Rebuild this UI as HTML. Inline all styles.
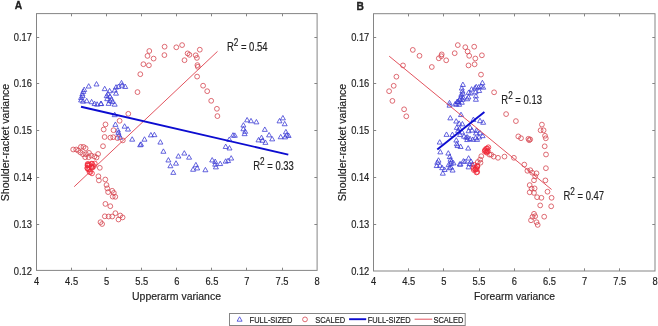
<!DOCTYPE html>
<html><head><meta charset="utf-8"><style>
html,body{margin:0;padding:0;background:#fff;width:658px;height:326px;overflow:hidden}
svg{display:block;font-family:"Liberation Sans",sans-serif;filter:blur(0.45px)}
</style></head><body>
<svg width="658" height="326" viewBox="0 0 658 326">
<rect width="658" height="326" fill="#fff"/>
<rect x="36.5" y="13.6" width="280.60" height="256.80" fill="none" stroke="#858585" stroke-width="1.0"/>
<path d="M71.50 270.4v-2.7M71.50 13.6v2.7M106.50 270.4v-2.7M106.50 13.6v2.7M141.50 270.4v-2.7M141.50 13.6v2.7M176.50 270.4v-2.7M176.50 13.6v2.7M211.50 270.4v-2.7M211.50 13.6v2.7M246.50 270.4v-2.7M246.50 13.6v2.7M282.50 270.4v-2.7M282.50 13.6v2.7M36.5 37.5h2.7M317.1 37.5h-2.7M36.5 83.5h2.7M317.1 83.5h-2.7M36.5 130.5h2.7M317.1 130.5h-2.7M36.5 177.5h2.7M317.1 177.5h-2.7M36.5 224.5h2.7M317.1 224.5h-2.7" stroke="#858585" stroke-width="1.0" fill="none"/>
<rect x="373.5" y="13.7" width="281.50" height="257.30" fill="none" stroke="#858585" stroke-width="1.0"/>
<path d="M408.50 271.0v-2.7M408.50 13.7v2.7M443.50 271.0v-2.7M443.50 13.7v2.7M479.50 271.0v-2.7M479.50 13.7v2.7M514.50 271.0v-2.7M514.50 13.7v2.7M549.50 271.0v-2.7M549.50 13.7v2.7M584.50 271.0v-2.7M584.50 13.7v2.7M619.50 271.0v-2.7M619.50 13.7v2.7M373.5 37.5h2.7M655.0 37.5h-2.7M373.5 83.5h2.7M655.0 83.5h-2.7M373.5 130.5h2.7M655.0 130.5h-2.7M373.5 177.5h2.7M655.0 177.5h-2.7M373.5 224.5h2.7M655.0 224.5h-2.7" stroke="#858585" stroke-width="1.0" fill="none"/>
<path d="M96.5 81.56l2.50 4.40h-5.00zM88.7 83.66l2.50 4.40h-5.00zM84.2 87.06l2.50 4.40h-5.00zM83.3 88.96l2.50 4.40h-5.00zM82.4 91.36l2.50 4.40h-5.00zM82.6 93.26l2.50 4.40h-5.00zM81.1 95.06l2.50 4.40h-5.00zM81.1 97.56l2.50 4.40h-5.00zM83.0 98.76l2.50 4.40h-5.00zM86.7 98.36l2.50 4.40h-5.00zM91.6 99.36l2.50 4.40h-5.00zM94.6 101.16l2.50 4.40h-5.00zM97.1 101.76l2.50 4.40h-5.00zM100.8 101.16l2.50 4.40h-5.00zM104.7 86.26l2.50 4.40h-5.00zM109.6 88.36l2.50 4.40h-5.00zM108.0 91.36l2.50 4.40h-5.00zM106.7 93.26l2.50 4.40h-5.00zM110.0 93.86l2.50 4.40h-5.00zM107.2 96.26l2.50 4.40h-5.00zM111.5 96.56l2.50 4.40h-5.00zM109.8 98.16l2.50 4.40h-5.00zM108.6 100.96l2.50 4.40h-5.00zM112.5 99.16l2.50 4.40h-5.00zM114.7 101.76l2.50 4.40h-5.00zM116.0 90.76l2.50 4.40h-5.00zM114.7 87.66l2.50 4.40h-5.00zM116.0 84.66l2.50 4.40h-5.00zM118.4 84.06l2.50 4.40h-5.00zM121.5 80.36l2.50 4.40h-5.00zM122.1 82.76l2.50 4.40h-5.00zM125.2 84.06l2.50 4.40h-5.00zM101.2 101.16l2.50 4.40h-5.00zM114.7 112.26l2.50 4.40h-5.00zM115.4 121.96l2.50 4.40h-5.00zM124.6 123.76l2.50 4.40h-5.00zM128.0 126.66l2.50 4.40h-5.00zM117.8 127.56l2.50 4.40h-5.00zM118.4 129.96l2.50 4.40h-5.00zM119.0 132.46l2.50 4.40h-5.00zM120.2 134.86l2.50 4.40h-5.00zM132.2 136.76l2.50 4.40h-5.00zM140.2 142.36l2.50 4.40h-5.00zM141.0 141.76l2.50 4.40h-5.00zM144.5 136.76l2.50 4.40h-5.00zM150.9 132.46l2.50 4.40h-5.00zM154.4 132.26l2.50 4.40h-5.00zM160.4 139.66l2.50 4.40h-5.00zM163.4 148.86l2.50 4.40h-5.00zM168.4 157.56l2.50 4.40h-5.00zM170.4 163.36l2.50 4.40h-5.00zM176.0 160.76l2.50 4.40h-5.00zM173.3 169.96l2.50 4.40h-5.00zM178.4 153.66l2.50 4.40h-5.00zM184.3 150.66l2.50 4.40h-5.00zM189.1 154.76l2.50 4.40h-5.00zM195.9 162.36l2.50 4.40h-5.00zM193.1 166.86l2.50 4.40h-5.00zM197.2 165.56l2.50 4.40h-5.00zM205.4 167.36l2.50 4.40h-5.00zM212.2 157.56l2.50 4.40h-5.00zM215.2 159.06l2.50 4.40h-5.00zM215.2 161.76l2.50 4.40h-5.00zM215.9 164.46l2.50 4.40h-5.00zM220.2 161.16l2.50 4.40h-5.00zM225.7 144.06l2.50 4.40h-5.00zM229.5 145.56l2.50 4.40h-5.00zM225.7 158.76l2.50 4.40h-5.00zM228.1 158.16l2.50 4.40h-5.00zM231.2 155.66l2.50 4.40h-5.00zM247.1 117.46l2.50 4.40h-5.00zM251.0 118.36l2.50 4.40h-5.00zM256.4 119.46l2.50 4.40h-5.00zM243.4 122.66l2.50 4.40h-5.00zM243.4 126.36l2.50 4.40h-5.00zM245.2 128.86l2.50 4.40h-5.00zM244.6 131.26l2.50 4.40h-5.00zM233.0 132.66l2.50 4.40h-5.00zM234.8 132.86l2.50 4.40h-5.00zM229.3 136.96l2.50 4.40h-5.00zM264.8 126.96l2.50 4.40h-5.00zM269.1 132.46l2.50 4.40h-5.00zM272.2 136.46l2.50 4.40h-5.00zM258.5 137.46l2.50 4.40h-5.00zM261.5 135.16l2.50 4.40h-5.00zM262.5 137.86l2.50 4.40h-5.00zM265.4 139.96l2.50 4.40h-5.00zM279.5 118.46l2.50 4.40h-5.00zM282.9 115.46l2.50 4.40h-5.00zM284.7 121.36l2.50 4.40h-5.00zM280.7 134.36l2.50 4.40h-5.00zM285.9 129.36l2.50 4.40h-5.00zM286.8 132.46l2.50 4.40h-5.00zM288.6 133.06l2.50 4.40h-5.00zM285.1 134.46l2.50 4.40h-5.00z" fill="none" stroke="#3e3ed6" stroke-width="0.8" stroke-linejoin="miter"/>
<g fill="none" stroke="#d64650" stroke-width="0.8"><circle cx="137.5" cy="92.1" r="2.4"/><circle cx="140.3" cy="74.2" r="2.4"/><circle cx="143.4" cy="64.2" r="2.4"/><circle cx="148.9" cy="65.3" r="2.4"/><circle cx="147.5" cy="55.9" r="2.4"/><circle cx="149.3" cy="51.0" r="2.4"/><circle cx="153.6" cy="58.6" r="2.4"/><circle cx="164.6" cy="46.7" r="2.4"/><circle cx="164.4" cy="55.1" r="2.4"/><circle cx="176.3" cy="47.3" r="2.4"/><circle cx="182.1" cy="45.1" r="2.4"/><circle cx="184.5" cy="60.2" r="2.4"/><circle cx="187.6" cy="53.4" r="2.4"/><circle cx="189.4" cy="54.8" r="2.4"/><circle cx="195.7" cy="55.3" r="2.4"/><circle cx="196.9" cy="57.9" r="2.4"/><circle cx="199.8" cy="49.7" r="2.4"/><circle cx="197.4" cy="65.1" r="2.4"/><circle cx="197.8" cy="66.8" r="2.4"/><circle cx="197.1" cy="76.6" r="2.4"/><circle cx="203.1" cy="85.7" r="2.4"/><circle cx="207.2" cy="91.2" r="2.4"/><circle cx="211.2" cy="100.8" r="2.4"/><circle cx="216.9" cy="108.8" r="2.4"/><circle cx="217.4" cy="116.1" r="2.4"/><circle cx="128.3" cy="113.8" r="2.4"/><circle cx="119.6" cy="120.8" r="2.4"/><circle cx="105.5" cy="124.4" r="2.4"/><circle cx="103.7" cy="129.5" r="2.4"/><circle cx="113.5" cy="130.2" r="2.4"/><circle cx="104.6" cy="137.0" r="2.4"/><circle cx="110.4" cy="137.6" r="2.4"/><circle cx="113.2" cy="137.2" r="2.4"/><circle cx="117.5" cy="138.1" r="2.4"/><circle cx="122.8" cy="140.4" r="2.4"/><circle cx="103.0" cy="146.2" r="2.4"/><circle cx="73.2" cy="149.5" r="2.4"/><circle cx="76.2" cy="149.5" r="2.4"/><circle cx="78.3" cy="150.7" r="2.4"/><circle cx="80.9" cy="146.9" r="2.4"/><circle cx="83.5" cy="146.9" r="2.4"/><circle cx="85.6" cy="148.2" r="2.4"/><circle cx="80.5" cy="152.5" r="2.4"/><circle cx="83.0" cy="154.2" r="2.4"/><circle cx="86.0" cy="154.2" r="2.4"/><circle cx="89.0" cy="152.9" r="2.4"/><circle cx="85.2" cy="157.2" r="2.4"/><circle cx="88.6" cy="157.2" r="2.4"/><circle cx="91.2" cy="155.5" r="2.4"/><circle cx="94.4" cy="156.5" r="2.4"/><circle cx="98.1" cy="154.0" r="2.4"/><circle cx="96.5" cy="157.5" r="2.4"/><circle cx="99.8" cy="167.8" r="2.4"/><circle cx="98.4" cy="176.3" r="2.4"/><circle cx="98.9" cy="180.4" r="2.4"/><circle cx="105.3" cy="179.5" r="2.4"/><circle cx="106.5" cy="185.0" r="2.4"/><circle cx="107.3" cy="188.4" r="2.4"/><circle cx="108.1" cy="192.1" r="2.4"/><circle cx="112.2" cy="190.8" r="2.4"/><circle cx="113.8" cy="192.9" r="2.4"/><circle cx="112.7" cy="196.6" r="2.4"/><circle cx="115.3" cy="196.8" r="2.4"/><circle cx="105.4" cy="203.9" r="2.4"/><circle cx="110.3" cy="206.2" r="2.4"/><circle cx="104.8" cy="216.3" r="2.4"/><circle cx="108.6" cy="216.5" r="2.4"/><circle cx="112.2" cy="216.5" r="2.4"/><circle cx="115.4" cy="213.2" r="2.4"/><circle cx="120.2" cy="215.5" r="2.4"/><circle cx="122.6" cy="217.4" r="2.4"/><circle cx="118.5" cy="219.5" r="2.4"/><circle cx="100.5" cy="222.2" r="2.4"/><circle cx="102.1" cy="224.0" r="2.4"/></g>
<g fill="none" stroke="#f02838" stroke-width="0.8"><circle cx="89.6" cy="164.7" r="2.4"/><circle cx="92.2" cy="163.8" r="2.4"/><circle cx="91.3" cy="167.0" r="2.4"/><circle cx="87.5" cy="168.6" r="2.4"/><circle cx="87.3" cy="167.8" r="2.4"/><circle cx="87.6" cy="164.0" r="2.4"/><circle cx="90.4" cy="172.1" r="2.4"/><circle cx="88.0" cy="165.5" r="2.4"/><circle cx="92.0" cy="173.4" r="2.4"/><circle cx="91.6" cy="167.4" r="2.4"/><circle cx="94.8" cy="163.5" r="2.4"/><circle cx="93.9" cy="166.2" r="2.4"/><circle cx="88.2" cy="164.3" r="2.4"/><circle cx="89.5" cy="172.0" r="2.4"/><circle cx="88.4" cy="169.4" r="2.4"/><circle cx="92.1" cy="167.1" r="2.4"/><circle cx="91.4" cy="163.7" r="2.4"/><circle cx="87.5" cy="165.3" r="2.4"/><circle cx="92.4" cy="167.7" r="2.4"/><circle cx="89.5" cy="169.4" r="2.4"/></g>
<path d="M462.9 82.06l2.50 4.40h-5.00zM461.8 85.66l2.50 4.40h-5.00zM462.4 88.56l2.50 4.40h-5.00zM462.9 90.86l2.50 4.40h-5.00zM461.3 91.96l2.50 4.40h-5.00zM460.8 94.36l2.50 4.40h-5.00zM463.1 94.86l2.50 4.40h-5.00zM459.8 96.96l2.50 4.40h-5.00zM462.3 96.96l2.50 4.40h-5.00zM458.7 99.26l2.50 4.40h-5.00zM461.8 99.86l2.50 4.40h-5.00zM456.5 101.66l2.50 4.40h-5.00zM459.2 101.86l2.50 4.40h-5.00zM457.2 99.16l2.50 4.40h-5.00zM482.4 80.26l2.50 4.40h-5.00zM481.1 83.76l2.50 4.40h-5.00zM483.2 84.76l2.50 4.40h-5.00zM476.2 84.26l2.50 4.40h-5.00zM478.7 84.56l2.50 4.40h-5.00zM474.9 85.56l2.50 4.40h-5.00zM471.6 86.66l2.50 4.40h-5.00zM470.7 90.66l2.50 4.40h-5.00zM475.6 89.46l2.50 4.40h-5.00zM479.2 88.06l2.50 4.40h-5.00zM475.9 93.46l2.50 4.40h-5.00zM475.9 96.86l2.50 4.40h-5.00zM468.4 94.56l2.50 4.40h-5.00zM467.2 96.36l2.50 4.40h-5.00zM468.7 89.96l2.50 4.40h-5.00zM449.5 100.36l2.50 4.40h-5.00zM449.5 102.76l2.50 4.40h-5.00zM455.1 101.56l2.50 4.40h-5.00zM457.5 99.06l2.50 4.40h-5.00zM461.0 112.16l2.50 4.40h-5.00zM450.3 115.46l2.50 4.40h-5.00zM456.2 118.66l2.50 4.40h-5.00zM459.1 120.86l2.50 4.40h-5.00zM462.4 121.46l2.50 4.40h-5.00zM456.8 124.96l2.50 4.40h-5.00zM459.6 125.96l2.50 4.40h-5.00zM473.4 117.06l2.50 4.40h-5.00zM480.0 118.26l2.50 4.40h-5.00zM483.2 119.86l2.50 4.40h-5.00zM470.1 124.96l2.50 4.40h-5.00zM468.6 128.36l2.50 4.40h-5.00zM472.0 127.66l2.50 4.40h-5.00zM476.5 127.96l2.50 4.40h-5.00zM476.0 130.56l2.50 4.40h-5.00zM480.0 130.46l2.50 4.40h-5.00zM482.6 133.26l2.50 4.40h-5.00zM452.4 132.06l2.50 4.40h-5.00zM460.0 132.06l2.50 4.40h-5.00zM464.0 133.76l2.50 4.40h-5.00zM467.6 134.66l2.50 4.40h-5.00zM470.0 136.16l2.50 4.40h-5.00zM472.8 136.96l2.50 4.40h-5.00zM467.2 137.16l2.50 4.40h-5.00zM477.1 136.96l2.50 4.40h-5.00zM479.1 134.56l2.50 4.40h-5.00zM475.6 135.36l2.50 4.40h-5.00zM458.1 127.96l2.50 4.40h-5.00zM462.0 129.56l2.50 4.40h-5.00zM456.3 137.66l2.50 4.40h-5.00zM456.8 141.36l2.50 4.40h-5.00zM457.5 143.16l2.50 4.40h-5.00zM466.2 134.76l2.50 4.40h-5.00zM446.5 131.96l2.50 4.40h-5.00zM439.7 139.66l2.50 4.40h-5.00zM440.3 149.46l2.50 4.40h-5.00zM448.3 150.66l2.50 4.40h-5.00zM449.8 154.16l2.50 4.40h-5.00zM450.5 156.86l2.50 4.40h-5.00zM451.4 158.86l2.50 4.40h-5.00zM438.5 157.76l2.50 4.40h-5.00zM437.3 159.86l2.50 4.40h-5.00zM436.7 163.16l2.50 4.40h-5.00zM439.9 162.86l2.50 4.40h-5.00zM442.2 165.26l2.50 4.40h-5.00zM444.6 167.06l2.50 4.40h-5.00zM442.8 170.76l2.50 4.40h-5.00zM448.6 162.26l2.50 4.40h-5.00zM450.8 160.96l2.50 4.40h-5.00zM450.8 164.66l2.50 4.40h-5.00zM452.6 167.66l2.50 4.40h-5.00zM453.5 160.46l2.50 4.40h-5.00zM459.7 161.66l2.50 4.40h-5.00zM463.4 158.56l2.50 4.40h-5.00zM449.5 165.36l2.50 4.40h-5.00zM468.2 145.66l2.50 4.40h-5.00zM460.6 144.06l2.50 4.40h-5.00zM468.6 155.66l2.50 4.40h-5.00zM464.9 158.96l2.50 4.40h-5.00zM471.0 158.96l2.50 4.40h-5.00zM469.5 161.16l2.50 4.40h-5.00zM472.3 161.76l2.50 4.40h-5.00zM460.5 161.66l2.50 4.40h-5.00zM468.6 164.46l2.50 4.40h-5.00z" fill="none" stroke="#3e3ed6" stroke-width="0.8" stroke-linejoin="miter"/>
<g fill="none" stroke="#d64650" stroke-width="0.8"><circle cx="412.8" cy="49.9" r="2.4"/><circle cx="419.5" cy="55.8" r="2.4"/><circle cx="403.0" cy="65.4" r="2.4"/><circle cx="396.4" cy="76.7" r="2.4"/><circle cx="393.7" cy="85.8" r="2.4"/><circle cx="389.1" cy="91.2" r="2.4"/><circle cx="392.4" cy="100.9" r="2.4"/><circle cx="404.1" cy="109.3" r="2.4"/><circle cx="406.3" cy="116.3" r="2.4"/><circle cx="441.7" cy="54.4" r="2.4"/><circle cx="441.3" cy="56.2" r="2.4"/><circle cx="438.8" cy="58.3" r="2.4"/><circle cx="446.2" cy="60.3" r="2.4"/><circle cx="431.8" cy="67.0" r="2.4"/><circle cx="454.7" cy="53.2" r="2.4"/><circle cx="457.8" cy="45.1" r="2.4"/><circle cx="465.3" cy="47.2" r="2.4"/><circle cx="467.6" cy="51.5" r="2.4"/><circle cx="469.2" cy="55.8" r="2.4"/><circle cx="474.2" cy="46.7" r="2.4"/><circle cx="475.3" cy="58.5" r="2.4"/><circle cx="474.6" cy="64.3" r="2.4"/><circle cx="468.5" cy="65.4" r="2.4"/><circle cx="481.9" cy="55.3" r="2.4"/><circle cx="481.0" cy="74.6" r="2.4"/><circle cx="494.1" cy="92.3" r="2.4"/><circle cx="506.1" cy="114.1" r="2.4"/><circle cx="515.9" cy="121.1" r="2.4"/><circle cx="518.3" cy="136.4" r="2.4"/><circle cx="521.0" cy="138.2" r="2.4"/><circle cx="528.4" cy="138.8" r="2.4"/><circle cx="530.2" cy="139.4" r="2.4"/><circle cx="529.2" cy="140.2" r="2.4"/><circle cx="541.9" cy="124.6" r="2.4"/><circle cx="540.6" cy="130.3" r="2.4"/><circle cx="543.6" cy="130.3" r="2.4"/><circle cx="545.0" cy="135.8" r="2.4"/><circle cx="545.8" cy="138.3" r="2.4"/><circle cx="544.7" cy="146.3" r="2.4"/><circle cx="546.0" cy="154.5" r="2.4"/><circle cx="545.9" cy="168.2" r="2.4"/><circle cx="545.4" cy="180.4" r="2.4"/><circle cx="524.3" cy="164.6" r="2.4"/><circle cx="527.4" cy="170.8" r="2.4"/><circle cx="530.3" cy="170.2" r="2.4"/><circle cx="532.2" cy="172.7" r="2.4"/><circle cx="536.5" cy="173.3" r="2.4"/><circle cx="535.2" cy="176.4" r="2.4"/><circle cx="534.0" cy="180.3" r="2.4"/><circle cx="529.7" cy="185.1" r="2.4"/><circle cx="531.6" cy="188.6" r="2.4"/><circle cx="534.6" cy="188.4" r="2.4"/><circle cx="529.7" cy="192.3" r="2.4"/><circle cx="534.0" cy="192.9" r="2.4"/><circle cx="537.1" cy="197.2" r="2.4"/><circle cx="541.4" cy="197.8" r="2.4"/><circle cx="547.5" cy="191.7" r="2.4"/><circle cx="551.6" cy="197.8" r="2.4"/><circle cx="540.2" cy="205.4" r="2.4"/><circle cx="551.2" cy="206.3" r="2.4"/><circle cx="534.0" cy="213.8" r="2.4"/><circle cx="535.2" cy="216.2" r="2.4"/><circle cx="532.5" cy="216.8" r="2.4"/><circle cx="531.0" cy="220.3" r="2.4"/><circle cx="536.5" cy="222.2" r="2.4"/><circle cx="537.7" cy="224.9" r="2.4"/><circle cx="544.2" cy="216.7" r="2.4"/><circle cx="491.2" cy="154.7" r="2.4"/><circle cx="493.7" cy="156.6" r="2.4"/><circle cx="498.0" cy="157.8" r="2.4"/><circle cx="504.5" cy="156.6" r="2.4"/><circle cx="513.9" cy="157.8" r="2.4"/><circle cx="481.3" cy="156.2" r="2.4"/><circle cx="480.1" cy="159.6" r="2.4"/><circle cx="477.8" cy="162.0" r="2.4"/><circle cx="480.5" cy="162.7" r="2.4"/><circle cx="477.2" cy="165.7" r="2.4"/><circle cx="489.4" cy="154.6" r="2.4"/></g>
<g fill="none" stroke="#f02838" stroke-width="0.8"><circle cx="486.3" cy="148.6" r="2.4"/><circle cx="487.7" cy="151.4" r="2.4"/><circle cx="485.5" cy="150.5" r="2.4"/><circle cx="486.6" cy="152.6" r="2.4"/><circle cx="487.4" cy="148.5" r="2.4"/><circle cx="488.4" cy="147.3" r="2.4"/><circle cx="486.2" cy="151.8" r="2.4"/><circle cx="485.1" cy="149.9" r="2.4"/><circle cx="484.7" cy="151.2" r="2.4"/><circle cx="487.6" cy="150.5" r="2.4"/><circle cx="477.4" cy="166.7" r="2.4"/><circle cx="476.6" cy="169.1" r="2.4"/><circle cx="476.1" cy="167.9" r="2.4"/><circle cx="477.3" cy="172.0" r="2.4"/><circle cx="475.6" cy="169.6" r="2.4"/><circle cx="473.8" cy="170.0" r="2.4"/><circle cx="476.4" cy="172.4" r="2.4"/><circle cx="477.2" cy="166.4" r="2.4"/><circle cx="475.2" cy="169.7" r="2.4"/><circle cx="473.6" cy="167.9" r="2.4"/><circle cx="474.3" cy="165.0" r="2.4"/></g>
<line x1="74.2" y1="186.7" x2="217.5" y2="51.4" stroke="#e04a55" stroke-width="0.95"/>
<line x1="81" y1="106.8" x2="288.3" y2="154.6" stroke="#0c0cd0" stroke-width="1.9"/>
<line x1="389.2" y1="56.2" x2="551.6" y2="189.5" stroke="#e04a55" stroke-width="0.95"/>
<line x1="437.3" y1="149.6" x2="484.4" y2="111.9" stroke="#0c0cd0" stroke-width="1.9"/>
<g font-family="Liberation Sans, sans-serif" fill="#222" stroke="#222" stroke-width="0.18">
<text transform="translate(32.0,41.45) scale(0.82,1)" font-size="11.4" text-anchor="end" font-weight="normal" >0.17</text>
<text transform="translate(32.0,87.45) scale(0.82,1)" font-size="11.4" text-anchor="end" font-weight="normal" >0.16</text>
<text transform="translate(32.0,134.45) scale(0.82,1)" font-size="11.4" text-anchor="end" font-weight="normal" >0.15</text>
<text transform="translate(32.0,181.45) scale(0.82,1)" font-size="11.4" text-anchor="end" font-weight="normal" >0.14</text>
<text transform="translate(32.0,228.45) scale(0.82,1)" font-size="11.4" text-anchor="end" font-weight="normal" >0.13</text>
<text transform="translate(32.0,275.2) scale(0.82,1)" font-size="11.4" text-anchor="end" font-weight="normal" >0.12</text>
<text transform="translate(36.50,284.6) scale(0.82,1)" font-size="11.4" text-anchor="middle" font-weight="normal" >4</text>
<text transform="translate(71.58,284.6) scale(0.82,1)" font-size="11.4" text-anchor="middle" font-weight="normal" >4.5</text>
<text transform="translate(106.65,284.6) scale(0.82,1)" font-size="11.4" text-anchor="middle" font-weight="normal" >5</text>
<text transform="translate(141.73,284.6) scale(0.82,1)" font-size="11.4" text-anchor="middle" font-weight="normal" >5.5</text>
<text transform="translate(176.80,284.6) scale(0.82,1)" font-size="11.4" text-anchor="middle" font-weight="normal" >6</text>
<text transform="translate(211.88,284.6) scale(0.82,1)" font-size="11.4" text-anchor="middle" font-weight="normal" >6.5</text>
<text transform="translate(246.95,284.6) scale(0.82,1)" font-size="11.4" text-anchor="middle" font-weight="normal" >7</text>
<text transform="translate(282.03,284.6) scale(0.82,1)" font-size="11.4" text-anchor="middle" font-weight="normal" >7.5</text>
<text transform="translate(317.10,284.6) scale(0.82,1)" font-size="11.4" text-anchor="middle" font-weight="normal" >8</text>
<text transform="translate(369.3,41.45) scale(0.82,1)" font-size="11.4" text-anchor="end" font-weight="normal" >0.17</text>
<text transform="translate(369.3,87.45) scale(0.82,1)" font-size="11.4" text-anchor="end" font-weight="normal" >0.16</text>
<text transform="translate(369.3,134.45) scale(0.82,1)" font-size="11.4" text-anchor="end" font-weight="normal" >0.15</text>
<text transform="translate(369.3,181.45) scale(0.82,1)" font-size="11.4" text-anchor="end" font-weight="normal" >0.14</text>
<text transform="translate(369.3,228.45) scale(0.82,1)" font-size="11.4" text-anchor="end" font-weight="normal" >0.13</text>
<text transform="translate(369.3,275.2) scale(0.82,1)" font-size="11.4" text-anchor="end" font-weight="normal" >0.12</text>
<text transform="translate(373.50,284.6) scale(0.82,1)" font-size="11.4" text-anchor="middle" font-weight="normal" >4</text>
<text transform="translate(408.69,284.6) scale(0.82,1)" font-size="11.4" text-anchor="middle" font-weight="normal" >4.5</text>
<text transform="translate(443.88,284.6) scale(0.82,1)" font-size="11.4" text-anchor="middle" font-weight="normal" >5</text>
<text transform="translate(479.06,284.6) scale(0.82,1)" font-size="11.4" text-anchor="middle" font-weight="normal" >5.5</text>
<text transform="translate(514.25,284.6) scale(0.82,1)" font-size="11.4" text-anchor="middle" font-weight="normal" >6</text>
<text transform="translate(549.44,284.6) scale(0.82,1)" font-size="11.4" text-anchor="middle" font-weight="normal" >6.5</text>
<text transform="translate(584.62,284.6) scale(0.82,1)" font-size="11.4" text-anchor="middle" font-weight="normal" >7</text>
<text transform="translate(619.81,284.6) scale(0.82,1)" font-size="11.4" text-anchor="middle" font-weight="normal" >7.5</text>
<text transform="translate(655.00,284.6) scale(0.82,1)" font-size="11.4" text-anchor="middle" font-weight="normal" >8</text>
<text transform="translate(176.5,300.2) scale(0.91,1)" font-size="11.5" text-anchor="middle" font-weight="normal" >Upperarm variance</text>
<text transform="translate(514.5,300.2) scale(0.9,1)" font-size="11.5" text-anchor="middle" font-weight="normal" >Forearm variance</text>
<text transform="translate(9.3,142.5) rotate(-90) scale(0.92,1)" font-size="11.5" text-anchor="middle">Shoulder-racket variance</text>
<text transform="translate(346.3,142.5) rotate(-90) scale(0.92,1)" font-size="11.5" text-anchor="middle">Shoulder-racket variance</text>
<text transform="translate(14.8,8.8) scale(0.9,1)" font-size="11.4" text-anchor="start" font-weight="bold" stroke="#222" stroke-width="0.35">A</text>
<text transform="translate(356.6,9.6) scale(0.9,1)" font-size="11.4" text-anchor="start" font-weight="bold" stroke="#222" stroke-width="0.35">B</text>
<text transform="translate(226.9,51.1) scale(0.79,1)" font-size="12">R<tspan font-size="10.4" dy="-5.0">2</tspan><tspan dy="5.0"> = 0.54</tspan></text>
<text transform="translate(253.2,169.6) scale(0.79,1)" font-size="12">R<tspan font-size="10.4" dy="-5.0">2</tspan><tspan dy="5.0"> = 0.33</tspan></text>
<text transform="translate(501.3,103.5) scale(0.79,1)" font-size="12">R<tspan font-size="10.4" dy="-5.0">2</tspan><tspan dy="5.0"> = 0.13</tspan></text>
<text transform="translate(563.5,199.8) scale(0.79,1)" font-size="12">R<tspan font-size="10.4" dy="-5.0">2</tspan><tspan dy="5.0"> = 0.47</tspan></text>
</g>
<rect x="229.5" y="313.5" width="235.7" height="12" fill="#fff" stroke="#858585" stroke-width="1"/>
<path d="M239.6 316.8l2.5 4.4h-5.0z" fill="none" stroke="#3e3ed6" stroke-width="0.8"/>
<circle cx="305" cy="319.4" r="2.4" fill="none" stroke="#d64650" stroke-width="0.8"/>
<line x1="349.1" y1="319.2" x2="366.2" y2="319.2" stroke="#0c0cd0" stroke-width="1.9"/>
<line x1="414.6" y1="319.2" x2="432.2" y2="319.2" stroke="#e04a55" stroke-width="0.95"/>
<g font-family="Liberation Sans, sans-serif" fill="#222" stroke="#222" stroke-width="0.2" font-size="9.6">
<text transform="translate(249.6,322.6) scale(0.78,1)">FULL-SIZED</text>
<text transform="translate(315.2,322.6) scale(0.78,1)">SCALED</text>
<text transform="translate(367.8,322.6) scale(0.78,1)">FULL-SIZED</text>
<text transform="translate(433.4,322.6) scale(0.78,1)">SCALED</text>
</g>
</svg>
</body></html>
